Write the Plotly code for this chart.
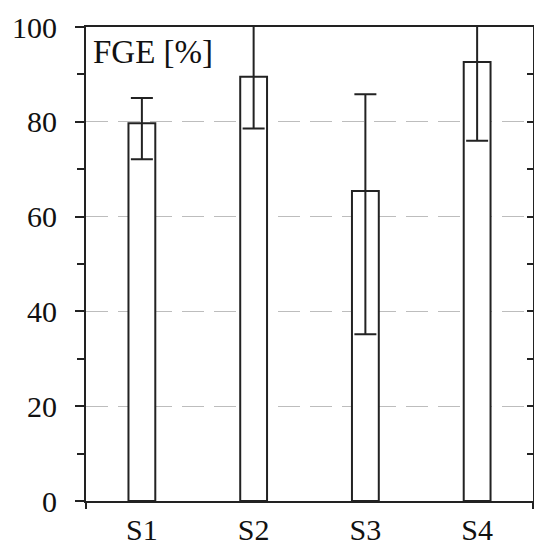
import plotly.graph_objects as go

categories = ["S1", "S2", "S3", "S4"]
fge_mean = [79.7, 89.5, 65.4, 92.6]
err_plus = [5.3, 10.9, 20.4, 16.6]
err_minus = [7.6, 10.9, 30.2, 16.6]
y_tick_vals = [0, 20, 40, 60, 80, 100]
y_tick_text = ["0", "20", "40", "60", "80", "100"]

FONT = "Liberation Serif, Times New Roman, serif"
LW = 2

fig = go.Figure()
fig.add_trace(go.Bar(
    x=categories, y=fge_mean, width=0.24,
    marker=dict(color="white", line=dict(color="#222", width=LW)),
    error_y=dict(type="data", symmetric=False, array=err_plus, arrayminus=err_minus,
                 color="#222", thickness=LW, width=11),
    showlegend=False, hoverinfo="skip",
))
fig.add_trace(go.Scatter(x=[-0.5, 3.5], y=[0, 0], xaxis="x2", yaxis="y", mode="lines",
                         line=dict(width=0), showlegend=False, hoverinfo="skip"))
fig.add_trace(go.Scatter(x=[0], y=[0], xaxis="x", yaxis="y2", mode="markers",
                         marker=dict(opacity=0), showlegend=False, hoverinfo="skip"))

fig.update_layout(
    width=534, height=546,
    margin=dict(l=86, r=1, t=27, b=45),
    plot_bgcolor="white", paper_bgcolor="white",
    font=dict(family=FONT, size=30, color="#111"),
    xaxis=dict(
        type="category", categoryorder="array", categoryarray=categories,
        range=[-0.5, 3.5], showline=True, linecolor="#222", linewidth=LW,
        mirror=True, ticks="", showgrid=False, zeroline=False,
        ticklabelstandoff=1, automargin=False,
        tickfont=dict(family=FONT, size=30, color="#111"),
    ),
    xaxis2=dict(
        overlaying="x", anchor="y", side="bottom", type="linear",
        range=[-0.5, 3.5], tickvals=[-0.5, 3.5], ticks="outside", ticklen=7,
        tickwidth=LW, tickcolor="#222", showticklabels=False, automargin=False,
        showgrid=False, zeroline=False, showline=False,
    ),
    yaxis=dict(
        range=[0, 100], tickvals=y_tick_vals, ticktext=y_tick_text,
        ticks="outside", ticklen=9, tickwidth=LW, tickcolor="#222",
        showline=True, linecolor="#222", linewidth=LW, mirror=True,
        showgrid=True, gridcolor="#bdbdbd", gridwidth=1, griddash="22px,10px",
        zeroline=False, ticklabelstandoff=12, automargin=False,
        tickfont=dict(family=FONT, size=30, color="#111"),
        minor=dict(tickvals=[10, 30, 50, 70, 90], ticks="outside", ticklen=7,
                   tickwidth=LW, tickcolor="#222", showgrid=False),
    ),
    yaxis2=dict(
        overlaying="y", anchor="x", side="right", range=[0, 100],
        tickvals=[10, 20, 30, 40, 50, 60, 70, 80, 90], ticks="inside", ticklen=6,
        tickwidth=LW, tickcolor="#222", showticklabels=False, automargin=False,
        showgrid=False, zeroline=False, showline=False,
    ),
    annotations=[dict(
        text="FGE [%]", xref="paper", yref="paper", x=0.012, y=0.99,
        xanchor="left", yanchor="top", showarrow=False,
        font=dict(family=FONT, size=33, color="#111"),
    )],
)

fig.write_html("out.html", config={"displayModeBar": False},
               post_script="document.body.style.margin='0';")
